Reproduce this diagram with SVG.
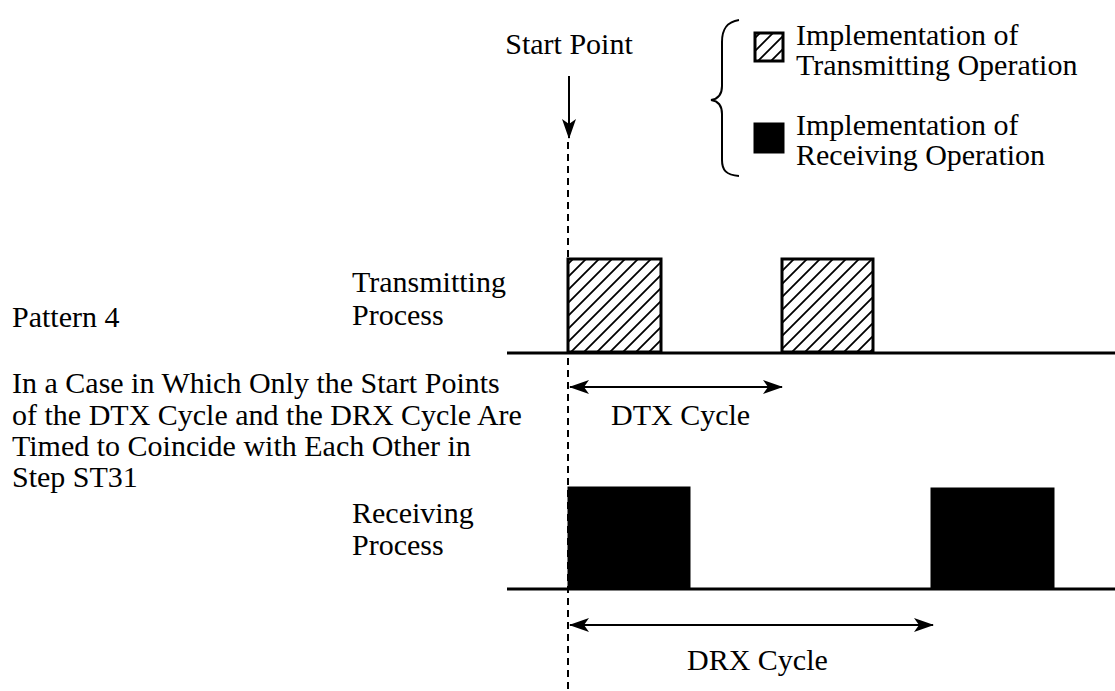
<svg xmlns="http://www.w3.org/2000/svg" width="1115" height="691" viewBox="0 0 1115 691">
<defs>
<style>
text{font-family:"Liberation Serif","Times New Roman",serif;font-size:30px;fill:#000}
.ln{stroke:#000;stroke-width:3;fill:none}
.thin{stroke:#000;stroke-width:2;fill:none}
.dash{stroke:#000;stroke-width:2;stroke-dasharray:7,5;fill:none}
.hatch{fill:url(#hatch);stroke:#000;stroke-width:3}
.solid{fill:#000;stroke:#000;stroke-width:1}
</style>
<pattern id="hatch" patternUnits="userSpaceOnUse" width="13" height="13">
<rect width="13" height="13" fill="#fff"/>
<path d="M-1,14 L14,-1 M-4,4 L4,-4 M9,17 L17,9" stroke="#000" stroke-width="1.8"/>
</pattern>
<marker id="ah" viewBox="0 0 20 14" refX="19" refY="7" markerWidth="20" markerHeight="14" markerUnits="userSpaceOnUse" orient="auto-start-reverse">
<path d="M0,0 L20,7 L0,14 L5,7 Z" fill="#000"/>
</marker>
</defs>
<rect width="1115" height="691" fill="#fff"/>

<g id="start-point">
<text x="569" y="54" text-anchor="middle">Start Point</text>
</g>

<g id="legend">
<path class="thin" d="M739,20 C726,22 722,30 722,42 L722,86 C722,95 718,99 711,100 C718,101 722,105 722,114 L722,160 C722,170 726,175 739,176"/>
<rect class="hatch" x="755" y="33" width="28" height="28"/>
<rect class="solid" x="754" y="123" width="30" height="30"/>
<text x="796" y="45">Implementation of</text>
<text x="796" y="75">Transmitting Operation</text>
<text x="796" y="135">Implementation of</text>
<text x="796" y="165">Receiving Operation</text>
</g>

<g id="labels">
<text x="12" y="327">Pattern 4</text>
<text x="12" y="393">In a Case in Which Only the Start Points</text>
<text x="12" y="425">of the DTX Cycle and the DRX Cycle Are</text>
<text x="12" y="456">Timed to Coincide with Each Other in</text>
<text x="12" y="487">Step ST31</text>
<text x="352" y="292">Transmitting</text>
<text x="352" y="325">Process</text>
<text x="352" y="523">Receiving</text>
<text x="352" y="555">Process</text>
</g>

<g id="tx-process">
<rect class="hatch" x="568" y="259" width="93" height="93"/>
<rect class="hatch" x="782" y="259" width="91" height="93"/>
</g>

<g id="rx-process">
<rect class="solid" x="568" y="487" width="122" height="102"/>
<rect class="solid" x="931" y="488" width="123" height="101"/>
</g>

<g id="connectors">
<line class="ln" x1="507" y1="353" x2="1115" y2="353"/>
<line class="ln" x1="507" y1="589" x2="1115" y2="589"/>
<line class="thin" x1="569" y1="76" x2="569" y2="138" marker-end="url(#ah)"/>
<line class="dash" x1="568" y1="142" x2="568" y2="691"/>
<line class="thin" x1="570" y1="387" x2="782" y2="387" marker-start="url(#ah)" marker-end="url(#ah)"/>
<line class="thin" x1="570" y1="625" x2="933" y2="625" marker-start="url(#ah)" marker-end="url(#ah)"/>
</g>

<g id="cycle-labels">
<text x="611" y="425">DTX Cycle</text>
<text x="687" y="670">DRX Cycle</text>
</g>
</svg>
